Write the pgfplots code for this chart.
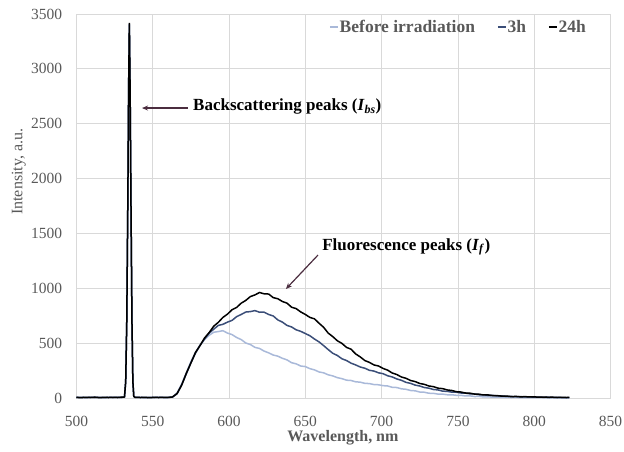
\documentclass[border=0pt]{standalone}
\usepackage{pgfplots}
\pgfplotsset{compat=1.18}
\usetikzlibrary{arrows.meta}
\usepackage{fontspec}
\setmainfont{Liberation Serif}
\definecolor{gridc}{HTML}{D9D9D9}
\definecolor{tickc}{HTML}{595959}
\definecolor{lblue}{HTML}{A9B9D9}
\definecolor{dblue}{HTML}{3B4E78}
\definecolor{arrc}{HTML}{4B2D3F}

\pgfplotstableread{
x y
500 6
503 4
506 7
509 5
512 8
515 4
518 6
521 5
524 7
527 5
529.5 7
531.5 10
532.3 150
533 700
533.7 1800
534.2 2800
534.7 3400
535.2 2800
535.8 1700
536.4 700
537 150
537.6 15
538.5 6
542 5
545 6
548 4
551 6
554 5
557 7
560 6
563 11
566 48
569 128
572 230
575 330
578 418
581 480
584 534
587 572
590 600
593 606
596 614
599 592
602 578
605 552
608 533
611 502
614 488
617 462
620 452
623 428
626 412
629 392
632 382
635 362
638 348
641 322
644 312
647 292
650 287
653 268
656 257
659 238
662 230
665 212
668 202
671 186
674 177
677 163
680 160
683 148
686 145
689 134
692 132
695 123
698 121
701 113
704 110
707 98
710 96
713 84
716 80
719 69
722 66
725 55
728 53
731 44
734 43
737 36
740 36
743 30
746 30
749 25
752 25
755 19
758 20
761 14
764 15
767 10
770 11
773 8
776 9
779 6
782 7
785 5
788 6
791 4
794 5
797 3
800 4
803 3
806 4
809 2
812 3
815 2
818 3
821 2
823 3
}\before

\pgfplotstableread{
x y
500 5
503 7
506 4
509 6
512 5
515 7
518 4
521 6
524 5
527 7
529.5 5
531.5 10
532.3 150
533 700
533.7 1800
534.2 2800
534.7 3410
535.2 2800
535.8 1700
536.4 700
537 150
537.6 15
538.5 6
542 6
545 4
548 6
551 5
554 7
557 5
560 5
563 9
566 40
569 122
572 220
575 322
578 408
581 482
584 538
587 592
590 628
593 662
596 672
599 692
602 708
605 742
608 762
611 784
614 788
617 797
620 782
623 783
626 762
629 748
632 712
635 692
638 662
641 648
644 622
647 608
650 588
653 568
656 538
659 512
662 478
665 442
668 408
671 388
674 358
677 342
680 318
683 302
686 283
689 272
692 253
695 246
698 230
701 222
704 203
707 192
710 174
713 162
716 143
719 134
722 118
725 110
728 96
731 90
734 78
737 74
740 63
743 61
746 54
749 53
752 46
755 45
758 38
761 37
764 30
767 30
770 24
773 24
776 19
779 19
782 15
785 15
788 12
791 13
794 10
797 11
800 8
803 9
806 7
809 8
812 6
815 6
818 5
821 5
823 4
}\threeh

\pgfplotstableread{
x y
500 6
503 4
506 7
509 5
512 8
515 4
518 6
521 5
524 7
527 5
529.5 8
531.5 10
532.3 150
533 700
533.7 1800
534.2 2800
534.7 3420
535.2 2800
535.8 1700
536.4 700
537 150
537.6 15
538.5 6
542 5
545 6
548 4
551 6
554 5
557 7
560 6
563 10
566 42
569 118
572 225
575 318
578 415
581 478
584 548
587 597
590 655
593 690
596 735
599 765
602 805
605 826
608 865
611 890
614 925
617 940
620 962
623 950
626 948
629 915
632 905
635 880
638 865
641 828
644 815
647 785
650 762
653 735
656 722
659 682
662 645
665 592
668 560
671 522
674 498
677 462
680 445
683 402
686 375
689 342
692 325
695 302
698 292
701 270
704 254
707 228
710 214
713 192
716 180
719 160
722 150
725 133
728 125
731 110
734 104
737 90
740 86
743 74
746 69
749 58
752 55
755 46
758 44
761 36
764 35
767 28
770 28
773 22
776 22
779 17
782 18
785 13
788 15
791 11
794 13
797 10
800 11
803 8
806 9
809 7
812 8
815 5
818 7
821 5
823 6
}\tfh

\begin{document}
\begin{tikzpicture}
\begin{axis}[
  at={(0,0)}, anchor=south west,
  scale only axis, width=534bp, height=384bp,
  xmin=500, xmax=850, ymin=0, ymax=3500,
  xtick={500,550,...,850}, ytick={0,500,...,3500},
  major tick length=0pt,
  grid=major, grid style={draw=gridc, line width=0.75bp},
  axis line style={draw=gridc, line width=0.75bp},
  /pgf/number format/1000 sep={},
  /pgf/number format/assume math mode=true,
  tick label style={font=\fontsize{15.5bp}{18bp}\selectfont, text=tickc, inner sep=0pt},
  yticklabel style={xshift=-14bp},
  xticklabel style={yshift=-18bp},
  ylabel={Intensity, a.u.},
  ylabel style={at={(axis description cs:-0.108,0.589)}, anchor=center, font=\fontsize{16bp}{19bp}\selectfont, text=tickc, inner sep=0pt},
  xlabel={\textbf{Wavelength, nm}},
  xlabel style={at={(axis description cs:0.499,-0.104)}, anchor=center, font=\fontsize{16bp}{19bp}\selectfont, text=tickc, inner sep=0pt},
  legend columns=3,
  legend cell align=left,
  legend style={at={(axis description cs:0.473,0.966)}, anchor=west, draw=none, fill=none, font=\bfseries\fontsize{17.5bp}{20bp}\selectfont, text=tickc, inner sep=0pt, nodes={inner sep=1bp}, /tikz/every even column/.append style={column sep=21bp}},
  legend image code/.code={\draw[#1] (0bp,0bp) -- (8bp,0bp);},
  clip=false,
]
\addplot[lblue, line width=1.5bp] table[x=x,y=y] {\before};
\addlegendentry{Before irradiation}
\addplot[dblue, line width=1.5bp] table[x=x,y=y] {\threeh};
\addlegendentry{3h}
\addplot[black, line width=1.5bp] table[x=x,y=y] {\tfh};
\addlegendentry{24h}

\draw[arrc, line width=1.2bp, -{Stealth[length=6bp,width=5bp]}] (axis cs:573.1,2643) -- (axis cs:543,2643);
\node[anchor=west, font=\bfseries\fontsize{17bp}{20bp}\selectfont, inner sep=0pt] at (axis cs:576.4,2657) {Backscattering peaks (\textit{I}\textsubscript{\textit{bs}})};
\draw[arrc, line width=1.2bp, -{Stealth[length=6bp,width=5bp]}] (axis cs:658.3,1303) -- (axis cs:637.3,994);
\node[anchor=west, font=\bfseries\fontsize{17bp}{20bp}\selectfont, inner sep=0pt] at (axis cs:661,1376) {Fluorescence peaks (\textit{I}\textsubscript{\textit{f}})};
\end{axis}
\pgfresetboundingbox
\path (-76.4bp,-53bp) rectangle (547.5bp,398bp);
\end{tikzpicture}
\end{document}
